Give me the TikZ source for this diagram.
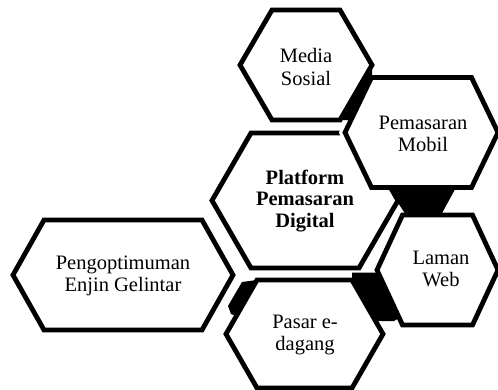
\documentclass[tikz,border=0pt]{standalone}
\usepackage{fontspec}
\setmainfont{Liberation Serif}
\begin{document}
\begin{tikzpicture}[x=1pt,y=-1pt,
  hexbox/.style={draw=black,fill=white,line width=4.8pt,line join=miter},
  halo/.style={draw=white,line width=11pt,line join=miter},
  linkbox/.style={fill=black,draw=none},
  lbl/.style={align=center,font=\fontsize{20.5}{22.5}\selectfont,inner sep=0pt},
  lblb/.style={align=center,font=\fontsize{20.5}{21.5}\selectfont\bfseries,inner sep=0pt}]
\def\hexp#1#2#3#4#5{(#1-#3-#5,#2) -- (#1-#3,#2-#4) -- (#1+#3,#2-#4) -- (#1+#3+#5,#2) -- (#1+#3,#2+#4) -- (#1-#3,#2+#4) -- cycle}
\useasboundingbox (0,0) rectangle (498,389);
\clip (0,0) rectangle (498,389);
% main hexagons
\path[hexbox] \hexp{123}{275}{79}{55}{31};
\path[hexbox] \hexp{306}{65}{34}{55}{32};
\path[hexbox] \hexp{305}{200.5}{54}{67.5}{39};
\path[hexbox] \hexp{304.5}{334}{47.5}{54}{31};
\path[hexbox] \hexp{437.5}{270}{35}{55}{25.5};
\begin{scope}
\clip (330,124) rectangle (365,145);
\path[halo] \hexp{421.5}{132.5}{50}{55}{26.5};
\end{scope}
\path[hexbox] \hexp{421.5}{132.5}{50}{55}{26.5};
% connectors
\fill[linkbox] (372,65) -- (372,77.5) -- (351,120) -- (340,120) -- cycle;
\fill[linkbox] (388,187.5) -- (456,187.5) -- (441,215) -- (406,215) -- cycle;
\fill[linkbox] (352,272.5) -- (378,272.5) -- (399,318) -- (394,321) -- (377,321) -- (352,280) -- cycle;
\fill[linkbox] (242,282) -- (257,280) -- (236,316) -- (231,314) -- (228,306) -- cycle;
% labels
\node[lbl] (peng) at (123,276) {Pengoptimuman\\Enjin Gelintar};
\node[lbl] (media) at (306,67) {Media\\Sosial};
\node[lblb] (plat) at (305,201) {Platform\\Pemasaran\\Digital};
\node[lbl] (mobil) at (423,134) {Pemasaran\\Mobil};
\node[lbl] (laman) at (441,269) {Laman\\Web};
\node[lbl] (pasar) at (305,335) {Pasar e-\\dagang};
\end{tikzpicture}
\end{document}
